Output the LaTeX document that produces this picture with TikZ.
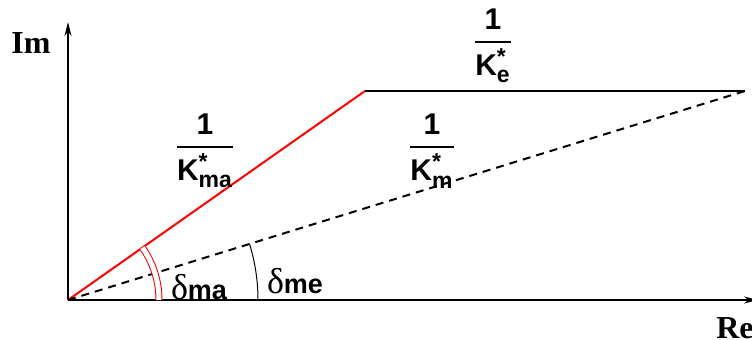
\documentclass[tikz,border=0pt]{standalone}
\usepackage{amsmath}
\usepackage{fontspec}
\setmainfont{Liberation Sans}
\newfontfamily\axisfont{Liberation Serif}
\usetikzlibrary{arrows.meta, angles}
\DeclareMathSizes{15}{15}{11.5}{9}
\newcommand{\kinv}[1]{$\displaystyle\genfrac{}{}{1pt}{}{\textbf{1}}{\textbf{K}^{\textbf{*}}_{\textbf{#1}}}$}

\begin{document}
\begin{tikzpicture}[x=0.5pt, y=0.5pt,
  ax/.style={-{Stealth[length=7pt, width=3.5pt]}, line width=1pt},
  lbl/.style={font=\axisfont\bfseries\fontsize{16}{18}\selectfont, inner sep=0pt},
  frc/.style={font=\fontsize{15}{17}\selectfont, inner sep=0pt},
  ang/.style={font=\fontsize{13.5}{15}\selectfont\bfseries, inner sep=0pt},
  line/.style={line width=1pt}
]
\useasboundingbox (0,0) rectangle (752,340);
% axes
\coordinate (O)  at (68,40);
\coordinate (ytip) at (68,318);
\coordinate (xtip) at (758,40);
\draw[ax] (O) -- (ytip);
\draw[ax] (O) -- (xtip);
\node[lbl] (im) at (31,297) {Im};
\node[lbl] (re) at (735,12) {Re};
% loci
\coordinate (P) at (365,249);
\coordinate (R) at (745,249);
\draw[line, red] (O) -- (P);
\draw[line] (P) -- (R);
\draw[line, dashed, dash pattern=on 4pt off 3pt] (O) -- (R);
% angles
\pic[draw=red, line width=0.5pt, double, double distance=2.5pt, angle radius=45.5pt] {angle = xtip--O--P};
\pic[draw, line width=0.5pt, angle radius=95pt] {angle = xtip--O--R};
\node[ang] (dma) at (199,53) {{\axisfont\mdseries\fontsize{18}{20}\selectfont δ}ma};
\node[ang] (dme) at (295,59) {{\axisfont\mdseries\fontsize{18}{20}\selectfont δ}me};
% fractions
\node[frc] (ke)  at (493,294) {\kinv{e}};
\node[frc] (km)  at (432,189) {\kinv{m}};
\node[frc] (kma) at (205,189) {\kinv{ma}};
\end{tikzpicture}
\end{document}
